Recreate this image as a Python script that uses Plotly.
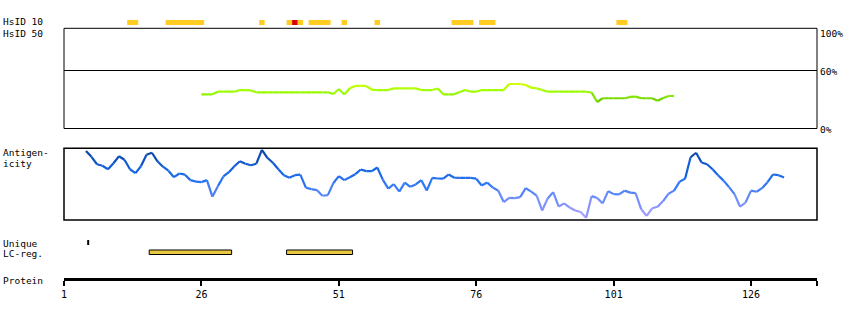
import numpy as np
import plotly.graph_objects as go

# ---------------- data ----------------
protein_length = 138
axis_ticks = [1, 26, 51, 76, 101, 126]

# HsID 10 hits (residue ranges, inclusive)
hsid10_orange = [(13, 14), (20, 26), (37, 37), (42, 42), (44, 44), (46, 49),
                 (52, 52), (58, 58), (72, 75), (77, 79), (102, 103)]
hsid10_red = [(43, 43)]

# HsID 50 identity profile (%), residues 26..112
hsid50_start = 26
hsid50_pct = [36.0, 36.0, 36.0, 38.6, 38.6, 38.6, 38.6, 40.3, 40.3, 39.9,
              38.0, 38.0, 38.0, 38.0, 38.0, 38.0, 38.0, 38.0, 38.0, 38.0,
              38.0, 38.0, 38.0, 38.0, 36.3, 41.3, 35.8, 42.0, 44.4, 44.4,
              44.4, 40.6, 40.3, 40.3, 40.3, 42.0, 42.0, 42.0, 42.0, 42.0,
              40.3, 40.3, 40.3, 41.8, 36.0, 36.0, 36.0, 38.3, 40.3, 38.6,
              38.6, 40.3, 40.3, 40.3, 40.3, 40.3, 46.4, 46.4, 46.4, 45.4,
              42.7, 42.0, 40.3, 38.6, 38.6, 38.6, 38.6, 38.6, 38.6, 38.6,
              38.6, 37.8, 28.2, 32.0, 32.0, 32.0, 32.0, 32.0, 33.3, 33.6,
              32.0, 32.0, 32.0, 29.5, 32.3, 34.3, 34.3]

# Antigenicity profile (relative score 0..1), residues 5..132
antigen_start = 5
antigen = [0.963, 0.881, 0.778, 0.757, 0.708, 0.792, 0.889, 0.840, 0.708, 0.653,
           0.750, 0.910, 0.938, 0.819, 0.743, 0.688, 0.597, 0.649, 0.632, 0.556,
           0.535, 0.528, 0.556, 0.326, 0.472, 0.607, 0.667, 0.750, 0.819, 0.785,
           0.764, 0.785, 0.979, 0.868, 0.799, 0.708, 0.625, 0.590, 0.625, 0.632,
           0.451, 0.431, 0.417, 0.338, 0.347, 0.514, 0.611, 0.556, 0.597, 0.639,
           0.704, 0.681, 0.681, 0.732, 0.563, 0.438, 0.500, 0.396, 0.521, 0.463,
           0.496, 0.556, 0.410, 0.588, 0.579, 0.576, 0.635, 0.589, 0.588, 0.588,
           0.588, 0.576, 0.482, 0.522, 0.454, 0.410, 0.250, 0.308, 0.304, 0.319,
           0.444, 0.396, 0.340, 0.132, 0.301, 0.389, 0.188, 0.232, 0.174, 0.133,
           0.111, 0.032, 0.333, 0.307, 0.232, 0.403, 0.361, 0.357, 0.410, 0.382,
           0.375, 0.153, 0.056, 0.163, 0.185, 0.264, 0.368, 0.410, 0.535, 0.576,
           0.875, 0.938, 0.801, 0.778, 0.708, 0.625, 0.549, 0.458, 0.361, 0.185,
           0.243, 0.410, 0.394, 0.444, 0.528, 0.635, 0.625, 0.593]

unique_positions = [5]
lc_regions = [(17, 31), (42, 53)]

left_labels = [("HsID 10", 22), ("HsID 50", 33), ("Antigen-", 152.5), ("icity", 163),
               ("Unique", 243), ("LC-reg.", 253.5), ("Protein", 280)]
right_labels = [("100%", 33), ("60%", 71.5), ("0%", 129)]

# ---------------- helpers ----------------
W, H = 850, 320
FONT = "DejaVu Sans Mono"


def py(pix):
    return 1 - pix / H


def interp_color(v, stops):
    xs = [s[0] for s in stops]
    rgb = [np.interp(v, xs, [s[1][i] for s in stops]) for i in range(3)]
    return "rgb(%d,%d,%d)" % tuple(int(round(c)) for c in rgb)


antigen_stops = [(0.0, (185, 165, 255)), (0.3, (110, 140, 250)), (0.5, (45, 118, 245)),
                 (0.7, (20, 100, 225)), (1.0, (10, 60, 150))]
green_stops = [(28, (95, 195, 0)), (36, (145, 245, 0)), (40, (160, 255, 0)), (46, (210, 255, 0))]

fig = go.Figure()

# HsID 50 line
hx = [hsid50_start + i for i in range(len(hsid50_pct))]
for i in range(len(hx) - 1):
    fig.add_trace(go.Scatter(x=hx[i:i + 2], y=hsid50_pct[i:i + 2], mode="lines",
                             line=dict(color=interp_color((hsid50_pct[i] + hsid50_pct[i + 1]) / 2, green_stops), width=2.2),
                             yaxis="y", hoverinfo="skip", showlegend=False))

# Antigenicity line
ax_ = [antigen_start + i for i in range(len(antigen))]
for i in range(len(ax_) - 1):
    fig.add_trace(go.Scatter(x=ax_[i:i + 2], y=antigen[i:i + 2], mode="lines",
                             line=dict(color=interp_color((antigen[i] + antigen[i + 1]) / 2, antigen_stops), width=2.2),
                             yaxis="y2", hoverinfo="skip", showlegend=False))

shapes = []
# panel boxes
shapes.append(dict(type="rect", xref="x domain", yref="y domain", x0=0, x1=1, y0=0, y1=1,
                   line=dict(color="black", width=1)))
shapes.append(dict(type="line", xref="x domain", yref="y", x0=0, x1=1, y0=60, y1=60,
                   line=dict(color="black", width=1)))
shapes.append(dict(type="rect", xref="x domain", yref="y2 domain", x0=0, x1=1, y0=0, y1=1,
                   line=dict(color="black", width=1.5)))

# HsID 10 blocks
for s, e in hsid10_orange:
    shapes.append(dict(type="rect", xref="x", yref="paper", x0=s - 0.5, x1=e + 0.5,
                       y0=py(25), y1=py(20), fillcolor="#ffcc22", line=dict(width=0)))
for s, e in hsid10_red:
    shapes.append(dict(type="rect", xref="x", yref="paper", x0=s - 0.5, x1=e + 0.5,
                       y0=py(25), y1=py(20), fillcolor="#dd0000", line=dict(width=0)))

# Unique
for p in unique_positions:
    shapes.append(dict(type="line", xref="x", yref="paper", x0=p + 0.4, x1=p + 0.4,
                       y0=py(245), y1=py(240), line=dict(color="black", width=2)))

# LC regions
for s, e in lc_regions:
    shapes.append(dict(type="rect", xref="x", yref="paper", x0=s - 0.5, x1=e + 0.5,
                       y0=py(254.5), y1=py(250), fillcolor="#e8c840",
                       line=dict(color="black", width=1)))

annotations = []
for t, yp in left_labels:
    annotations.append(dict(text=t, x=1 / W, y=py(yp), xref="paper", yref="paper",
                            xanchor="left", yanchor="middle", showarrow=False,
                            font=dict(family=FONT, size=9.5, color="black")))
for t, yp in right_labels:
    annotations.append(dict(text=t, x=818 / W, y=py(yp), xref="paper", yref="paper",
                            xanchor="left", yanchor="middle", showarrow=False,
                            font=dict(family=FONT, size=9.5, color="black")))

tickvals = axis_ticks + [protein_length]
ticktext = [str(t) for t in axis_ticks] + [""]

fig.update_layout(
    width=W, height=H,
    margin=dict(l=0, r=0, t=0, b=0, autoexpand=False),
    paper_bgcolor="white", plot_bgcolor="white",
    showlegend=False,
    xaxis=dict(domain=[64 / W, 817 / W], range=[1, protein_length], anchor="free",
               position=py(278.5), showline=True, linewidth=3, linecolor="black",
               ticks="outside", ticklen=5, tickwidth=2, tickcolor="black",
               tickvals=tickvals, ticktext=ticktext, showgrid=False, zeroline=False,
               automargin=False,
               tickfont=dict(family=FONT, size=10, color="black")),
    yaxis=dict(domain=[py(128.5), py(28.3)], range=[1.51, 102.55], visible=False,
               anchor="x", automargin=False),
    yaxis2=dict(domain=[py(220), py(148.3)], range=[0, 1], visible=False, anchor="x",
                automargin=False),
    shapes=shapes,
    annotations=annotations,
)

fig.write_html("out.html")
